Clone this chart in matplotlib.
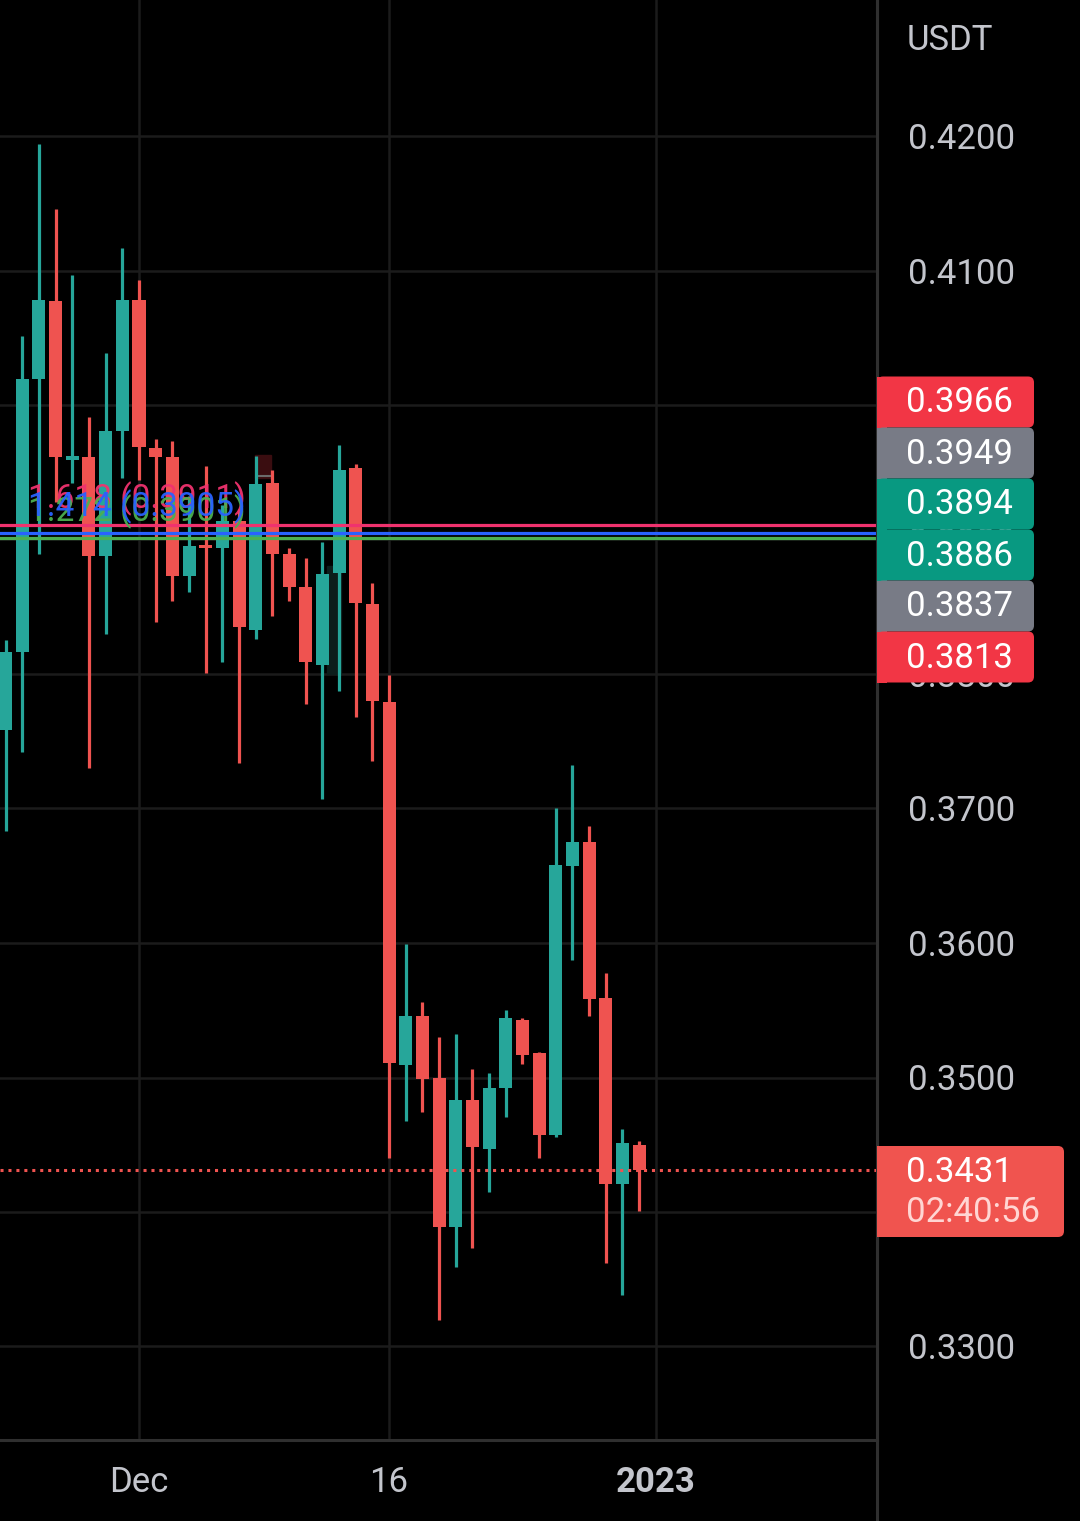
import numpy as np
import pandas as pd
import matplotlib
matplotlib.use('Agg')
import matplotlib.pyplot as plt
import matplotlib.dates as mdates
from matplotlib.patches import FancyBboxPatch, Rectangle
from matplotlib.transforms import blended_transform_factory

# daily candles, Nov 23 - Dec 31 2022
dates = pd.date_range('2022-11-23', '2022-12-31', freq='D')
opens = [0.3758, 0.3816, 0.4019, 0.4077, 0.3959, 0.3961, 0.3888, 0.3981,
         0.4078, 0.3968, 0.3961, 0.3873, 0.3895, 0.3894, 0.3914, 0.3833,
         0.3942, 0.3889, 0.3865, 0.3807, 0.3875, 0.3953, 0.3852, 0.3779,
         0.3509, 0.3546, 0.3500, 0.3389, 0.3483, 0.3447, 0.3492, 0.3543,
         0.3518, 0.3457, 0.3657, 0.3675, 0.3559, 0.3421, 0.3450]
highs = [0.3825, 0.4051, 0.4194, 0.4146, 0.4097, 0.3991, 0.4039, 0.4117,
         0.4093, 0.3975, 0.3973, 0.3932, 0.3955, 0.3926, 0.3923, 0.3962,
         0.3952, 0.3894, 0.3886, 0.3898, 0.3970, 0.3956, 0.3868, 0.3799,
         0.3599, 0.3556, 0.3530, 0.3532, 0.3506, 0.3503, 0.3550, 0.3544,
         0.3519, 0.3700, 0.3732, 0.3687, 0.3578, 0.3462, 0.3453]
lows = [0.3683, 0.3742, 0.3889, 0.3928, 0.3942, 0.3730, 0.3830, 0.3946,
        0.3944, 0.3839, 0.3854, 0.3861, 0.3801, 0.3809, 0.3734, 0.3826,
        0.3843, 0.3854, 0.3778, 0.3707, 0.3787, 0.3768, 0.3735, 0.3440,
        0.3468, 0.3474, 0.3320, 0.3359, 0.3373, 0.3415, 0.3471, 0.3510,
        0.3440, 0.3456, 0.3587, 0.3546, 0.3362, 0.3338, 0.3401]
closes = [0.3816, 0.4019, 0.4078, 0.3961, 0.3962, 0.3888, 0.3981, 0.4078,
          0.3969, 0.3961, 0.3873, 0.3895, 0.3894, 0.3914, 0.3835, 0.3941,
          0.3889, 0.3865, 0.3809, 0.3874, 0.3952, 0.3853, 0.3780, 0.3511,
          0.3546, 0.3499, 0.3389, 0.3483, 0.3448, 0.3492, 0.3544, 0.3517,
          0.3457, 0.3658, 0.3675, 0.3558, 0.3421, 0.3451, 0.3431]

# fib extension lines (drawn in this order, last on top)
fib_levels = [0.3911, 0.3901, 0.3905]
fib_texts = ['1.618 (0.3911)', '1.272 (0.3901)', '1.414 (0.3905)']
fib_colors = ['#f0326e', '#4caf50', '#2962ff']

# price scale tags (stacked on the right)
tag_values = ['0.3966', '0.3949', '0.3894', '0.3886', '0.3837', '0.3813']
tag_colors = ['#f23645', '#787b86', '#089981', '#089981', '#787b86', '#f23645']
last_price = 0.3431
countdown = '02:40:56'

price_ticks = [0.33, 0.34, 0.35, 0.36, 0.37, 0.38, 0.39, 0.40, 0.41, 0.42]
date_ticks = ['2022-12-01', '2022-12-16', '2023-01-01']
date_labels = ['Dec', '16', '2023']

UP = '#26a69a'
DOWN = '#ef5350'
TXT = '#c3c5cc'
GRID = '#1b1b1b'
SEP = '#2f2f2f'

plt.rcParams['font.family'] = ['Roboto', 'DejaVu Sans']

W, H = 1080, 1521
fig = plt.figure(figsize=(W / 100, H / 100), dpi=100, facecolor='black')
ax = fig.add_axes([0, 81 / H, 877 / W, 1440 / H])
ax.set_facecolor('black')

x = mdates.date2num(dates)
o = np.array(opens)
c = np.array(closes)
hi = np.array(highs)
lo = np.array(lows)
cols = [UP if cc >= oo else DOWN for oo, cc in zip(o, c)]

ax.vlines(x, lo, hi, colors=cols, linewidth=2.3, zorder=3)
body_bot = np.minimum(o, c)
body_h = np.maximum(np.abs(c - o), 0.00016)
ax.bar(x, body_h, bottom=body_bot, width=0.78, color=cols, linewidth=0, zorder=4)

# small drawing-tool leftovers near Dec 8 / Dec 12
d8 = mdates.date2num(pd.Timestamp('2022-12-08'))
ax.add_patch(Rectangle((d8 - 0.05, 0.3946), 0.95, 0.0017, color='#3a0d10', zorder=2))
ax.hlines(0.3947, d8 - 0.05, d8 + 0.9, colors='#6b6b6b', linewidth=1.5, zorder=2)
d12 = mdates.date2num(pd.Timestamp('2022-12-12'))
ax.add_patch(Rectangle((d12 + 0.3, 0.3800), 0.8, 0.0080, color='#0c1d1b', zorder=2))

# fib lines and their labels
for lvl, col in zip(fib_levels, fib_colors):
    ax.axhline(lvl, color=col, linewidth=2.3, zorder=5)
tr = blended_transform_factory(ax.transAxes, ax.transData)
for lvl, txt, col in zip(fib_levels, fib_texts, fib_colors):
    ax.annotate(txt, xy=(28 / 877, lvl), xycoords=tr, xytext=(0, 12),
                textcoords='offset points', color=col, fontsize=24,
                va='baseline', ha='left', zorder=6, alpha=0.95)

# last price dotted line
ax.axhline(last_price, color=DOWN, linewidth=2.2, linestyle=(0, (1, 1.6)), zorder=5)

ax.set_ylim(0.42 - 1304 / 13450, 0.42 + 136 / 13450)
d1 = mdates.date2num(pd.Timestamp('2022-12-01'))
ax.set_xlim(d1 - 139 / 16.667, d1 + 738 / 16.667)

ax.set_yticks(price_ticks)
ax.set_yticklabels([f'{p:.4f}' for p in price_ticks])
ax.yaxis.tick_right()
ax.tick_params(axis='y', length=0, pad=22, labelsize=25, labelcolor=TXT)

ax.set_xticks(mdates.date2num(pd.to_datetime(date_ticks)))
ax.set_xticklabels(date_labels)
ax.tick_params(axis='x', length=0, pad=19, labelsize=25, labelcolor=TXT)
ax.get_xticklabels()[2].set_fontweight('bold')

ax.grid(True, color=GRID, linewidth=1.8, zorder=0)
ax.set_axisbelow(True)
for s in ['top', 'left']:
    ax.spines[s].set_visible(False)
for s in ['right', 'bottom']:
    ax.spines[s].set_color(SEP)
    ax.spines[s].set_linewidth(2.2)

# overlay in pixel space for the price-scale tags
ov = fig.add_axes([0, 0, 1, 1])
ov.set_xlim(0, W)
ov.set_ylim(H, 0)
ov.axis('off')
ov.patch.set_alpha(0)
ov.axvline(877, ymin=0, ymax=1, color=SEP, linewidth=2.2)

ov.text(907, 40, 'USDT', color=TXT, fontsize=25, va='center', ha='left')

for i, (val, col) in enumerate(zip(tag_values, tag_colors)):
    yc = 402 + 51 * i
    ov.add_patch(FancyBboxPatch((877, yc - 25.5), 157, 51,
                                boxstyle='round,pad=0,rounding_size=6',
                                facecolor=col, edgecolor='none', zorder=3))
    ov.add_patch(Rectangle((877, yc - 25.5), 10, 51, facecolor=col,
                           edgecolor='none', zorder=3))
    ov.text(906, yc + 1, val, color='white', fontsize=25, va='center',
            ha='left', zorder=4)

ov.add_patch(FancyBboxPatch((877, 1146), 187, 91,
                            boxstyle='round,pad=0,rounding_size=6',
                            facecolor='#f0544f', edgecolor='none', zorder=3))
ov.add_patch(Rectangle((877, 1146), 10, 91, facecolor='#f0544f',
                       edgecolor='none', zorder=3))
ov.text(906, 1172, f'{last_price:.4f}', color='white', fontsize=25,
        va='center', ha='left', zorder=4)
ov.text(906, 1213, countdown, color='#ffd6d3', fontsize=25,
        va='center', ha='left', zorder=4)

fig.savefig('out.png', dpi=100, facecolor='black')
